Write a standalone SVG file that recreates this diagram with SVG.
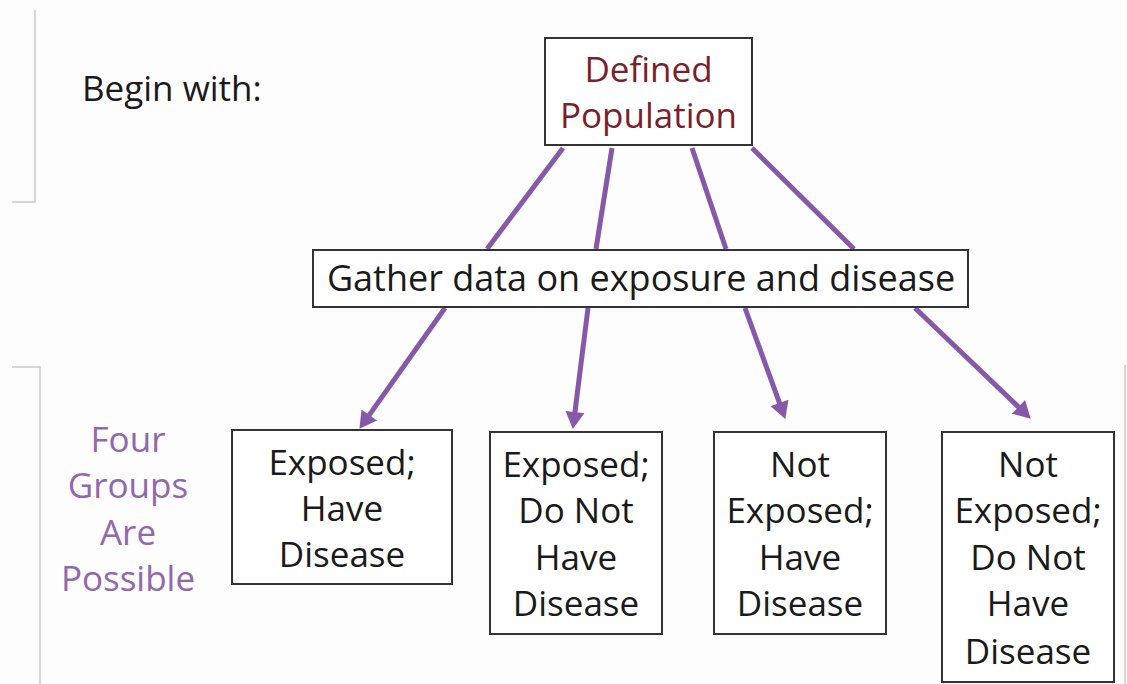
<svg xmlns="http://www.w3.org/2000/svg" width="1127" height="684" viewBox="0 0 1127 684">
<style>
.bg{fill:#fdfdfd}
.edge{stroke:#c9c9c9;stroke-width:1.5;fill:none}
.box{fill:#ffffff;stroke:#333333;stroke-width:2}
.t{font-family:"Open Sans","Noto Sans",sans-serif;font-size:35px;fill:#1a1a1a;text-anchor:middle}
.red{fill:#7a1f2b}
.pur{fill:#9168ad}
.conn{stroke:#8659a8;stroke-width:5;fill:none}
.arr{stroke:#8659a8;stroke-width:5;fill:none;marker-end:url(#ah)}
</style>
<defs>
<marker id="ah" markerUnits="userSpaceOnUse" markerWidth="20" markerHeight="22" viewBox="0 -11 18 22" refX="2" refY="0" orient="auto">
<path d="M0,-9.5 L17,0 L0,9.5 Z" fill="#8659a8"/>
</marker>
</defs>
<rect class="bg" x="0" y="0" width="1127" height="684"/>
<g id="frame">
<polyline class="edge" points="35,10 35,202 12,202"/>
<polyline class="edge" points="12,367 40,367 40,684"/>
<line class="edge" x1="1125" y1="365" x2="1125" y2="684"/>
</g>
<g id="connectors">
<line class="conn" x1="563" y1="148" x2="487" y2="249"/>
<line class="conn" x1="612" y1="148" x2="596" y2="249"/>
<line class="conn" x1="692" y1="148" x2="726" y2="249"/>
<line class="conn" x1="752" y1="148" x2="854" y2="249"/>
<line class="arr" x1="445" y1="308" x2="368.1" y2="416.6"/>
<line class="arr" x1="588" y1="308" x2="574.7" y2="414.1"/>
<line class="arr" x1="745" y1="308" x2="780.2" y2="404.8"/>
<line class="arr" x1="915" y1="308" x2="1019.9" y2="408.3"/>
</g>
<g id="begin">
<text class="t" x="82" y="101" style="text-anchor:start">Begin with:</text>
</g>
<g id="four-groups">
<text class="t pur" x="128" y="452">Four</text>
<text class="t pur" x="128" y="498">Groups</text>
<text class="t pur" x="128" y="545">Are</text>
<text class="t pur" x="128" y="591">Possible</text>
</g>
<g id="population">
<rect class="box" x="545" y="38" width="207" height="107"/>
<text class="t red" x="648.5" y="82">Defined</text>
<text class="t red" x="648.5" y="128">Population</text>
</g>
<g id="gather">
<rect class="box" x="313" y="250" width="655" height="57"/>
<text class="t" x="641" y="291" style="font-size:36px">Gather data on exposure and disease</text>
</g>
<g id="group1">
<rect class="box" x="232" y="430" width="220" height="154"/>
<text class="t" x="342" y="475">Exposed;</text>
<text class="t" x="342" y="521">Have</text>
<text class="t" x="342" y="567">Disease</text>
</g>
<g id="group2">
<rect class="box" x="490" y="432" width="172" height="202"/>
<text class="t" x="576" y="477">Exposed;</text>
<text class="t" x="576" y="523">Do Not</text>
<text class="t" x="576" y="570">Have</text>
<text class="t" x="576" y="616">Disease</text>
</g>
<g id="group3">
<rect class="box" x="714" y="432" width="172" height="202"/>
<text class="t" x="800" y="477">Not</text>
<text class="t" x="800" y="523">Exposed;</text>
<text class="t" x="800" y="570">Have</text>
<text class="t" x="800" y="616">Disease</text>
</g>
<g id="group4">
<rect class="box" x="942" y="432" width="172" height="250"/>
<text class="t" x="1028" y="477">Not</text>
<text class="t" x="1028" y="523">Exposed;</text>
<text class="t" x="1028" y="570">Do Not</text>
<text class="t" x="1028" y="616">Have</text>
<text class="t" x="1028" y="664">Disease</text>
</g>
</svg>
